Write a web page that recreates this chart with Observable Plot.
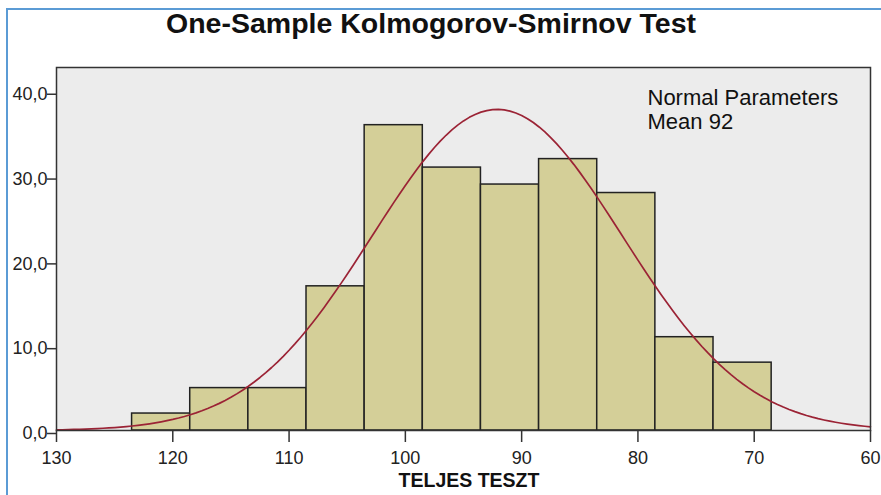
<!DOCTYPE html>
<html>
<head>
<meta charset="utf-8">
<script src="https://cdn.jsdelivr.net/npm/d3@7"></script>
<script src="https://cdn.jsdelivr.net/npm/@observablehq/plot@0.6"></script>
<style>
  body { margin: 0; background: #fff; font-family: "Liberation Sans", Arial, sans-serif; }
  #wrap { position: relative; width: 881px; height: 495px; overflow: hidden; background: #fff; }
  #border { position: absolute; left: 6px; top: 8px; width: 900px; height: 520px;
            border-left: 2px solid #5b9bd5; border-top: 2px solid #5b9bd5; }
  #title { position: absolute; left: 0; top: 9px; width: 862px; text-align: center;
           font-weight: bold; font-size: 28.5px; line-height: 1; color: #111; }
  #xlabel { position: absolute; left: 369px; top: 471px; width: 200px; text-align: center;
            font-weight: bold; font-size: 19.5px; line-height: 1; color: #111; }
  #chart { position: absolute; left: 0; top: 45px; }
</style>
</head>
<body>
<div id="wrap">
  <div id="border"></div>
  <div id="title">One-Sample Kolmogorov-Smirnov Test</div>
  <div id="chart"></div>
  <div id="xlabel">TELJES TESZT</div>
</div>
<script>
// Histogram bin edges (TELJES TESZT score) and counts
const binEdges = [123.5, 118.5, 113.5, 108.5, 103.5, 98.5, 93.5, 88.5, 83.5, 78.5, 73.5, 68.5];
const counts   = [2, 5, 5, 17, 36, 31, 29, 32, 28, 11, 8];

// Axis ticks
const xTicks = [130, 120, 110, 100, 90, 80, 70, 60];
const yTicks = [0, 10, 20, 30, 40];

// Fitted normal parameters
const normalMean = 92.1;
const normalSD = 10.75;
const legendLines = ["Normal Parameters", "Mean 92"];

// Build tables
const bins = counts.map((c, i) => ({x1: binEdges[i], x2: binEdges[i + 1], count: c}));
const total = d3.sum(counts);
const binWidth = binEdges[0] - binEdges[1];
const curve = d3.range(130, 59.99, -0.5).map(x => ({
  x,
  y: total * binWidth / (normalSD * Math.sqrt(2 * Math.PI)) *
     Math.exp(-((x - normalMean) ** 2) / (2 * normalSD ** 2))
}));

const fmt = d => d.toFixed(1).replace(".", ",");

const plot = Plot.plot({
  width: 881,
  height: 450,
  marginTop: 22,
  marginBottom: 65,
  marginLeft: 56,
  marginRight: 11,
  style: { fontSize: "18px", fontFamily: "Liberation Sans, Arial, sans-serif", color: "#222", background: "transparent" },
  x: { domain: [130, 60], ticks: xTicks },
  y: { domain: [0, 42.8], ticks: yTicks },
  marks: [
    Plot.frame({ fill: "#ececec", stroke: null }),
    Plot.rectY(bins, { x1: "x1", x2: "x2", y: "count", fill: "#d4cf98", stroke: "#222", strokeWidth: 1.5 }),
    Plot.line(curve, { x: "x", y: "y", stroke: "#9b2335", strokeWidth: 1.7, curve: "linear" }),
    Plot.frame({ stroke: "#333", strokeWidth: 1.5 }),
    Plot.axisX({ ticks: xTicks, tickSize: 12, tickPadding: 9, tickFormat: d => String(d), label: null,
                 stroke: "#333", strokeWidth: 1.5, fontSize: 18, fill: "#222" }),
    Plot.axisY({ ticks: yTicks, tickSize: 9, tickPadding: 0, tickFormat: fmt, label: null, dy: 3,
                 stroke: "#333", strokeWidth: 1.5, fontSize: 18, fill: "#222" }),
    Plot.text([legendLines.join("\n")], {
      frameAnchor: "top-left", dx: 591, dy: 21, textAnchor: "start", lineAnchor: "top",
      fontSize: 22, lineHeight: 1.08, fill: "#111"
    })
  ]
});
document.getElementById("chart").appendChild(plot);
</script>
</body>
</html>
